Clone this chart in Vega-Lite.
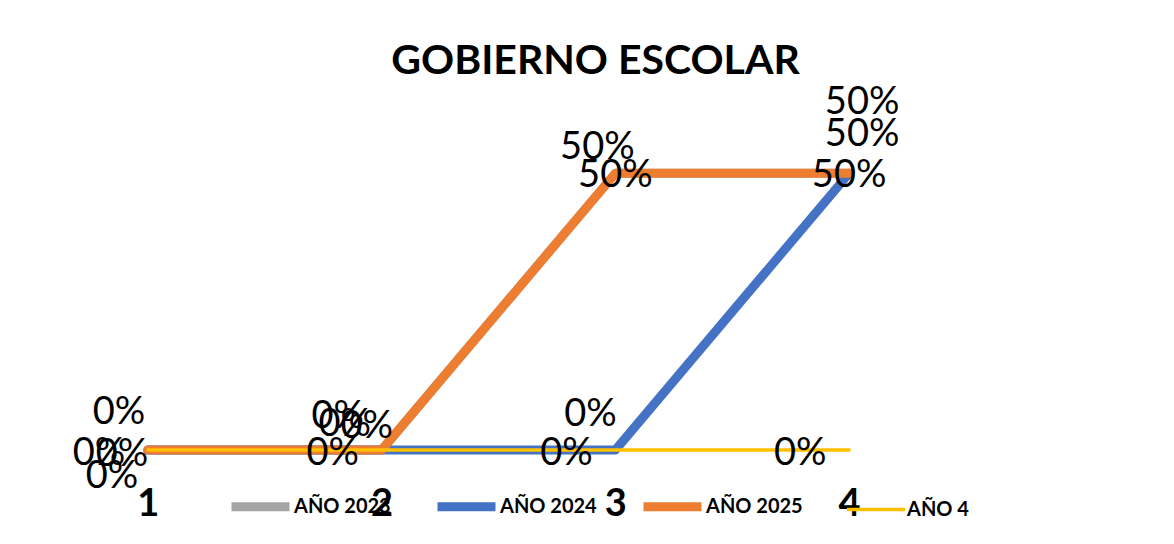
{
  "$schema": "https://vega.github.io/schema/vega-lite/v6.json",
  "autosize": "none",
  "width": 935,
  "height": 332,
  "padding": {"left": 31, "top": 118, "right": 208, "bottom": 94},
  "background": "white",
  "config": {"view": {"stroke": null}, "font": "Lato"},
  "title": {"text": "GOBIERNO ESCOLAR", "fontSize": 41, "fontWeight": "bold", "font": "Lato", "color": "#000000", "anchor": "middle", "dx": 97, "offset": 1},
  "data": {"values": [
    {"cat": "1", "serie": "AÑO 2023", "value": 0},
    {"cat": "2", "serie": "AÑO 2023", "value": 0},
    {"cat": "3", "serie": "AÑO 2023", "value": 0.5},
    {"cat": "4", "serie": "AÑO 2023", "value": 0.5},
    {"cat": "1", "serie": "AÑO 2024", "value": 0},
    {"cat": "2", "serie": "AÑO 2024", "value": 0},
    {"cat": "3", "serie": "AÑO 2024", "value": 0},
    {"cat": "4", "serie": "AÑO 2024", "value": 0.5},
    {"cat": "1", "serie": "AÑO 2025", "value": 0},
    {"cat": "2", "serie": "AÑO 2025", "value": 0},
    {"cat": "3", "serie": "AÑO 2025", "value": 0.5},
    {"cat": "4", "serie": "AÑO 2025", "value": 0.5},
    {"cat": "1", "serie": "AÑO 4", "value": 0},
    {"cat": "2", "serie": "AÑO 4", "value": 0},
    {"cat": "3", "serie": "AÑO 4", "value": 0},
    {"cat": "4", "serie": "AÑO 4", "value": 0}
  ]},
  "encoding": {
    "x": {"field": "cat", "type": "ordinal", "scale": {"type": "point", "padding": 0.5},
      "axis": {"title": null, "labelAngle": 0, "ticks": false, "domain": false, "grid": false, "labelFont": "Lato", "labelFontSize": 38, "labelFontWeight": "bold", "labelColor": "#000000", "labelPadding": 35}},
    "y": {"field": "value", "type": "quantitative", "scale": {"domain": [0, 0.6]}, "axis": null}
  },
  "layer": [
    {
      "mark": {"type": "line", "strokeCap": "round", "strokeJoin": "round"},
      "encoding": {
        "color": {"field": "serie", "type": "nominal",
          "scale": {"domain": ["AÑO 2023", "AÑO 2024", "AÑO 2025", "AÑO 4"], "range": ["#A5A5A5", "#4472C4", "#ED7D31", "#FFC000"]},
          "legend": {"orient": "none", "legendX": 196, "legendY": 355, "direction": "horizontal", "title": null, "symbolType": "stroke", "symbolSize": 3364, "labelFont": "Lato", "labelFontSize": 20, "labelFontWeight": "bold", "labelColor": "#000000", "columnPadding": 28, "labelOffset": 0, "gridAlign": "all"}},
        "strokeWidth": {"field": "serie", "type": "nominal",
          "scale": {"type": "ordinal", "domain": ["AÑO 2023", "AÑO 2024", "AÑO 2025", "AÑO 4"], "range": [9, 9, 9, 3.5]},
          "legend": {"orient": "none", "legendX": 196, "legendY": 355, "direction": "horizontal", "title": null, "symbolType": "stroke", "symbolSize": 3364, "labelFont": "Lato", "labelFontSize": 20, "labelFontWeight": "bold", "labelColor": "#000000", "columnPadding": 28, "labelOffset": 0, "gridAlign": "all"}}
      }
    },
    {
      "transform": [{"filter": "datum.serie === 'AÑO 4'"}],
      "mark": {"type": "text", "font": "Lato", "fontSize": 38, "color": "#000000", "dx": -49, "dy": 4},
      "encoding": {"text": {"field": "value", "type": "quantitative", "format": ".0%"}}
    },
    {
      "transform": [{"filter": "datum.serie === 'AÑO 2025' && (datum.cat === '3' || datum.cat === '4')"}],
      "mark": {"type": "text", "font": "Lato", "fontSize": 38, "color": "#000000", "dx": 0, "dy": 3},
      "encoding": {"text": {"field": "value", "type": "quantitative", "format": ".0%"}}
    },
    {
      "transform": [{"filter": "datum.serie === 'AÑO 2025' && datum.cat === '1'"}],
      "mark": {"type": "text", "font": "Lato", "fontSize": 38, "color": "#000000", "dx": -26, "dy": 5},
      "encoding": {"text": {"field": "value", "type": "quantitative", "format": ".0%"}}
    },
    {
      "transform": [{"filter": "datum.serie === 'AÑO 2025' && datum.cat === '2'"}],
      "mark": {"type": "text", "font": "Lato", "fontSize": 38, "color": "#000000", "dx": -37, "dy": -25},
      "encoding": {"text": {"field": "value", "type": "quantitative", "format": ".0%"}}
    },
    {
      "transform": [{"filter": "datum.serie === 'AÑO 2024' && datum.cat === '1'"}],
      "mark": {"type": "text", "font": "Lato", "fontSize": 38, "color": "#000000", "dx": -29, "dy": -37},
      "encoding": {"text": {"field": "value", "type": "quantitative", "format": ".0%"}}
    },
    {
      "transform": [{"filter": "datum.serie === 'AÑO 2024' && datum.cat === '2'"}],
      "mark": {"type": "text", "font": "Lato", "fontSize": 38, "color": "#000000", "dx": -44, "dy": -33},
      "encoding": {"text": {"field": "value", "type": "quantitative", "format": ".0%"}}
    },
    {
      "transform": [{"filter": "datum.serie === 'AÑO 2024' && datum.cat === '3'"}],
      "mark": {"type": "text", "font": "Lato", "fontSize": 38, "color": "#000000", "dx": -25, "dy": -35},
      "encoding": {"text": {"field": "value", "type": "quantitative", "format": ".0%"}}
    },
    {
      "transform": [{"filter": "datum.serie === 'AÑO 2024' && datum.cat === '4'"}],
      "mark": {"type": "text", "font": "Lato", "fontSize": 38, "color": "#000000", "dx": 13, "dy": -70},
      "encoding": {"text": {"field": "value", "type": "quantitative", "format": ".0%"}}
    },
    {
      "transform": [{"filter": "datum.serie === 'AÑO 2023' && datum.cat === '1'"}],
      "mark": {"type": "text", "font": "Lato", "fontSize": 38, "color": "#000000", "dx": -36, "dy": 27},
      "encoding": {"text": {"field": "value", "type": "quantitative", "format": ".0%"}}
    },
    {
      "transform": [{"filter": "datum.serie === 'AÑO 2023' && datum.cat === '2'"}],
      "mark": {"type": "text", "font": "Lato", "fontSize": 38, "color": "#000000", "dx": -15, "dy": -23},
      "encoding": {"text": {"field": "value", "type": "quantitative", "format": ".0%"}}
    },
    {
      "transform": [{"filter": "datum.serie === 'AÑO 2023' && datum.cat === '3'"}],
      "mark": {"type": "text", "font": "Lato", "fontSize": 38, "color": "#000000", "dx": -18, "dy": -25},
      "encoding": {"text": {"field": "value", "type": "quantitative", "format": ".0%"}}
    },
    {
      "transform": [{"filter": "datum.serie === 'AÑO 2023' && datum.cat === '4'"}],
      "mark": {"type": "text", "font": "Lato", "fontSize": 38, "color": "#000000", "dx": 13, "dy": -38},
      "encoding": {"text": {"field": "value", "type": "quantitative", "format": ".0%"}}
    }
  ]
}
